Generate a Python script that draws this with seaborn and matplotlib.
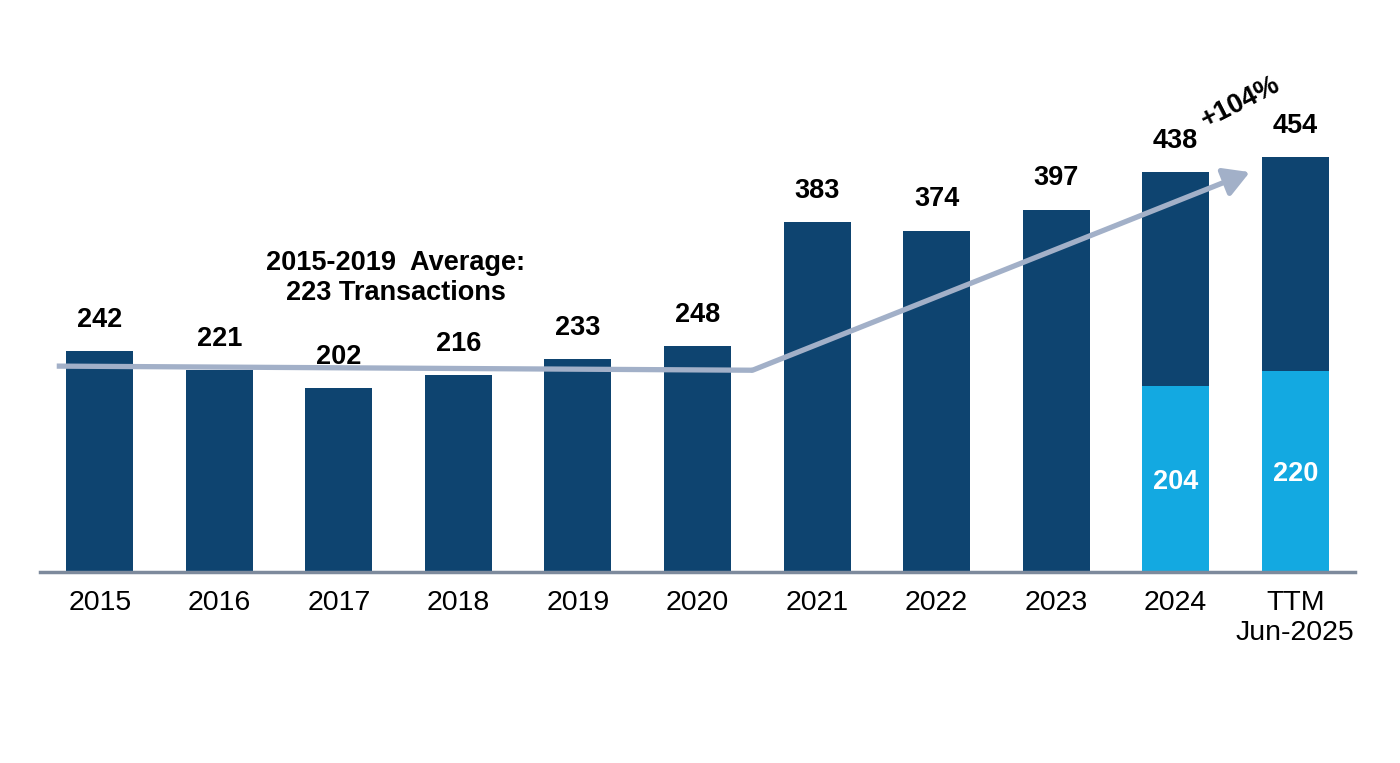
import matplotlib
matplotlib.use("Agg")
import matplotlib.pyplot as plt
import seaborn as sns
import pandas as pd
import numpy as np

# ---- data ----
categories = ["2015", "2016", "2017", "2018", "2019", "2020", "2021", "2022", "2023", "2024", "TTM\nJun-2025"]
totals = [242, 221, 202, 216, 233, 248, 383, 374, 397, 438, 454]
light_categories = ["2024", "TTM\nJun-2025"]
light_values = [204, 220]
avg_label = "2015-2019  Average:\n223 Transactions"
growth_label = "+104%"
# trend line (category index, value)
trend_x = [-0.36, 5.46, 9.62]
trend_y = [225.5, 221.0, 438.0]

DARK = "#0E4470"
LIGHT = "#13A9E1"
TREND = "#A2B0C8"
AXIS = "#7D8A9C"

sns.set_theme(style="white")
plt.rcParams["font.family"] = ["Liberation Sans", "DejaVu Sans"]

fig = plt.figure(figsize=(14, 7.63), dpi=100)
W, H = 1400, 763
base_px = 572
scale = 0.913
ymax = 580
ax = fig.add_axes([40 / W, (H - base_px) / H, 1315 / W, ymax * scale / H])

df = pd.DataFrame({"cat": categories, "val": totals})
sns.barplot(data=df, x="cat", y="val", order=categories, color=DARK,
            width=0.56, saturation=1, ax=ax, errorbar=None, linewidth=0)
df2 = pd.DataFrame({"cat": light_categories, "val": light_values})
sns.barplot(data=df2, x="cat", y="val", order=categories, color=LIGHT,
            width=0.56, saturation=1, ax=ax, errorbar=None, linewidth=0)

ax.set_xlim(-0.5, 10.5)
ax.set_ylim(0, ymax)
ax.set_xlabel("")
ax.set_ylabel("")
ax.set_yticks([])
for s in ["top", "right", "left"]:
    ax.spines[s].set_visible(False)
ax.spines["bottom"].set_color(AXIS)
ax.spines["bottom"].set_linewidth(2.5)
ax.spines["bottom"].set_zorder(5)
ax.tick_params(axis="x", length=0, pad=13, labelsize=20.5, colors="black")

# total labels
for i, v in enumerate(totals):
    ax.annotate(str(v), (i, v), xytext=(0, 13), textcoords="offset points",
                ha="center", va="bottom", fontsize=19.5, fontweight="bold", color="black")

# light inner labels
for c, v in zip(light_categories, light_values):
    i = categories.index(c)
    ax.text(i, v / 2 - 3, str(v), ha="center", va="center", fontsize=19.5,
            fontweight="bold", color="white")

# trend line with arrow
ax.plot(trend_x[:2], trend_y[:2], color=TREND, lw=3.8, solid_capstyle="butt", zorder=4)
ax.annotate("", xy=(trend_x[2], trend_y[2]), xytext=(trend_x[1], trend_y[1]),
            arrowprops=dict(arrowstyle="-|>,head_length=0.7,head_width=0.4", lw=3.8,
                            color=TREND, shrinkA=0, shrinkB=0, mutation_scale=22),
            zorder=4)

# annotation texts
fig.text(396 / W, 1 - 278 / H, avg_label, ha="center", va="center", fontsize=19.5,
         fontweight="bold", color="black", linespacing=1.2)
fig.text(1241 / W, 1 - 102 / H, growth_label, ha="center", va="center", fontsize=19.5,
         fontweight="bold", color="black", rotation=27)

fig.savefig("out.png", dpi=100)
